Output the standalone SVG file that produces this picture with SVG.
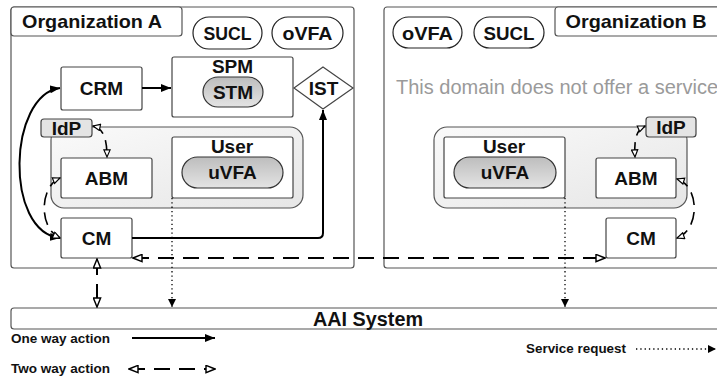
<svg xmlns="http://www.w3.org/2000/svg" width="717" height="379" viewBox="0 0 717 379">
<style>
text{font-family:"Liberation Sans",Arial,sans-serif;font-weight:bold;fill:#111;text-anchor:middle}
.org{fill:#fff;stroke:#555;stroke-width:1.2}
.box{fill:#fff;stroke:#444;stroke-width:1.2}
.pill{fill:#fff;stroke:#222;stroke-width:1.2}
.gpill{fill:url(#gp);stroke:#333;stroke-width:1.2}
.dom{fill:url(#gd);stroke:#555;stroke-width:1.2}
.idp{fill:#e4e4e4;stroke:#444;stroke-width:1.2}
.t19{font-size:19px}
.lg{font-size:13.5px;text-anchor:start}
.solid{fill:none;stroke:#000;stroke-width:2}
.dash{fill:none;stroke:#000;stroke-width:2;stroke-dasharray:16 9}
.sdash{fill:none;stroke:#000;stroke-width:1.6;stroke-dasharray:13 7}
.dot{fill:none;stroke:#000;stroke-width:1.3;stroke-dasharray:1.3 3}
</style>
<defs>
<linearGradient id="gp" x1="0" y1="0" x2="0" y2="1"><stop offset="0" stop-color="#bdbdbd"/><stop offset="1" stop-color="#e4e4e4"/></linearGradient>
<linearGradient id="gd" x1="0" y1="0" x2="1" y2="1"><stop offset="0" stop-color="#fafafa"/><stop offset="1" stop-color="#e6e6e6"/></linearGradient>
<marker id="fa" markerUnits="userSpaceOnUse" viewBox="0 0 10 8" refX="10" refY="4" markerWidth="10" markerHeight="8" orient="auto-start-reverse"><path d="M0,0 L10,4 L0,8 z" fill="#000"/></marker>
<marker id="oa" markerUnits="userSpaceOnUse" viewBox="-1 -1 12 10" refX="10" refY="4" markerWidth="11" markerHeight="9" orient="auto-start-reverse"><path d="M0,0 L10,4 L0,8 z" fill="#fff" stroke="#000" stroke-width="1.6"/></marker>
<marker id="soa" markerUnits="userSpaceOnUse" viewBox="-1 -1 10 9" refX="8" refY="3.5" markerWidth="9" markerHeight="8" orient="auto-start-reverse"><path d="M0,0 L8,3.5 L0,7 z" fill="#fff" stroke="#000" stroke-width="1.3"/></marker>
<marker id="da" markerUnits="userSpaceOnUse" viewBox="0 0 8 8" refX="8" refY="4" markerWidth="8" markerHeight="8" orient="auto"><path d="M0,0 L8,4 L0,8 z" fill="#000"/></marker>
</defs>

<g id="orgA">
<rect class="org" x="11" y="7" width="343" height="261" rx="3"/>
<rect class="org" x="11" y="7" width="171" height="29" rx="3"/>
<text class="t19" x="92" y="28" textLength="140" lengthAdjust="spacingAndGlyphs">Organization A</text>
</g>
<g id="orgB">
<rect class="org" x="384" y="7" width="345" height="261" rx="3"/>
<rect class="org" x="555" y="7" width="175" height="29" rx="3"/>
<text class="t19" x="636" y="28" textLength="141" lengthAdjust="spacingAndGlyphs">Organization B</text>
<text x="396" y="94" style="font-weight:normal;font-size:20px;fill:#9a9a9a;text-anchor:start">This domain does not offer a service</text>
</g>

<g id="suclA"><rect class="pill" x="193" y="17" width="69" height="32" rx="16"/><text x="227.5" y="40" font-size="18" textLength="48" lengthAdjust="spacingAndGlyphs">SUCL</text></g>
<g id="ovfaA"><rect class="pill" x="272" y="17" width="71" height="32" rx="16"/><text x="307.5" y="40" font-size="18" textLength="50" lengthAdjust="spacingAndGlyphs">oVFA</text></g>
<g id="ovfaB"><rect class="pill" x="393" y="17" width="69" height="31" rx="15.5"/><text x="427.5" y="39.5" font-size="18" textLength="51" lengthAdjust="spacingAndGlyphs">oVFA</text></g>
<g id="suclB"><rect class="pill" x="474" y="17" width="70" height="31" rx="15.5"/><text x="509" y="39.5" font-size="18" textLength="51" lengthAdjust="spacingAndGlyphs">SUCL</text></g>

<g id="crm"><rect class="box" x="61" y="67" width="81" height="43" rx="2"/><text class="t19" x="101.5" y="95">CRM</text></g>
<g id="spm"><rect class="box" x="172" y="57" width="121" height="60" rx="2"/><text class="t19" x="232.5" y="73">SPM</text>
<rect class="gpill" x="203" y="77" width="60" height="30" rx="15"/><text class="t19" x="233" y="99">STM</text></g>
<g id="ist"><polygon class="box" points="323,67 353,88 323,109 294,88"/><text class="t19" x="323.5" y="95">IST</text></g>

<g id="userDomainA"><rect class="dom" x="51" y="127" width="252" height="81" rx="13"/></g>
<g id="abmA"><rect class="box" x="61" y="158" width="91" height="40" rx="2"/><text class="t19" x="106.5" y="185">ABM</text></g>
<g id="userA"><rect class="box" x="172" y="137" width="121" height="61" rx="2"/><text class="t19" x="232" y="153">User</text>
<rect class="gpill" x="182" y="157" width="101" height="31" rx="15.5"/><text class="t19" x="232.5" y="179">uVFA</text></g>
<g id="idpA"><rect class="idp" x="41" y="119" width="51" height="18" rx="3"/><text class="t19" x="66.5" y="134.5">IdP</text></g>
<g id="cmA"><rect class="box" x="61" y="218" width="71" height="40" rx="2"/><text class="t19" x="96.5" y="245">CM</text></g>

<g id="userDomainB"><rect class="dom" x="434" y="127" width="253" height="81" rx="13"/></g>
<g id="userB"><rect class="box" x="444" y="137" width="121" height="61" rx="2"/><text class="t19" x="504" y="153">User</text>
<rect class="gpill" x="454" y="157" width="102" height="31" rx="15.5"/><text class="t19" x="505" y="179">uVFA</text></g>
<g id="abmB"><rect class="box" x="596" y="158" width="80" height="40" rx="2"/><text class="t19" x="636" y="185">ABM</text></g>
<g id="idpB"><rect class="idp" x="646" y="117" width="50" height="20" rx="3"/><text class="t19" x="671" y="134">IdP</text></g>
<g id="cmB"><rect class="box" x="606" y="218" width="70" height="40" rx="2"/><text class="t19" x="641" y="245">CM</text></g>

<g id="aai"><rect class="org" x="11" y="308" width="720" height="21" rx="3"/><text x="368" y="326" font-size="20" textLength="110" lengthAdjust="spacingAndGlyphs">AAI System</text></g>

<g id="connectors">
<path class="solid" d="M142,88 H171" marker-end="url(#fa)"/>
<path class="solid" d="M132,238 H318 Q323,238 323,233 V110" marker-end="url(#fa)"/>
<path class="solid" d="M60,88 C8,95 4,232 60,238" marker-start="url(#fa)" marker-end="url(#fa)"/>
<path class="sdash" d="M93,126 C103,128 107,138 107,157" stroke-dasharray="13 4 30" marker-start="url(#soa)" marker-end="url(#soa)"/>
<path class="sdash" d="M60,178 C40,186 38,228 60,238" marker-start="url(#soa)" marker-end="url(#soa)"/>
<path class="sdash" d="M645,126 C636,130 634,140 635,157" stroke-dasharray="13 4 30" marker-start="url(#soa)" marker-end="url(#soa)"/>
<path class="sdash" d="M677,179 C700,186 700,230 677,238" marker-start="url(#soa)" marker-end="url(#soa)"/>
<path class="dash" d="M133,258 H605" marker-start="url(#oa)" marker-end="url(#oa)"/>
<path class="dash" d="M97,259 V307" stroke-dasharray="20 10" marker-start="url(#oa)" marker-end="url(#oa)"/>
<path class="dot" d="M172,198 V307" marker-end="url(#da)"/>
<path class="dot" d="M565,198 V307" marker-end="url(#da)"/>
</g>

<g id="legend">
<text class="lg" x="11" y="343" textLength="99" lengthAdjust="spacingAndGlyphs">One way action</text>
<path class="solid" d="M132,338 H215" marker-end="url(#fa)"/>
<text class="lg" x="11" y="373" textLength="99" lengthAdjust="spacingAndGlyphs">Two way action</text>
<path class="dash" d="M129,369 H215" stroke-dasharray="23 10 18 12 23" marker-start="url(#oa)" marker-end="url(#oa)"/>
<text class="lg" x="526" y="353" textLength="100" lengthAdjust="spacingAndGlyphs">Service request</text>
<path class="dot" d="M636,349 H716" marker-end="url(#da)"/>
</g>
</svg>
